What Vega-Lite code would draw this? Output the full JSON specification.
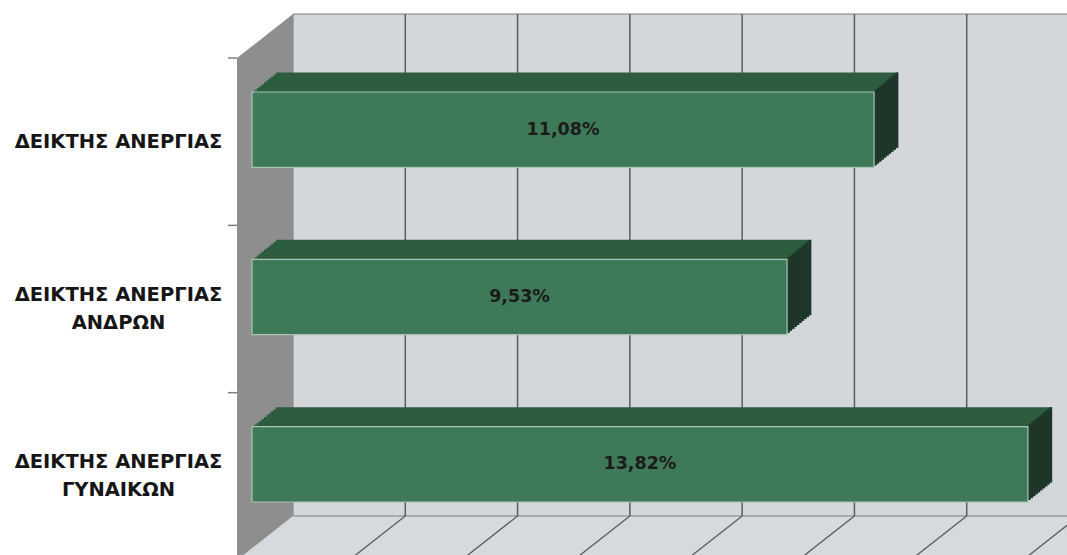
{
"$schema": "https://vega.github.io/schema/vega-lite/v6.json",
"width": 830, "height": 497,
"autosize": "none",
"padding": {"left": 237, "top": 58, "right": 0, "bottom": 0},
"background": "white",
"config": {"view": {"stroke": null}, "locale": {"number": {"decimal": ",", "thousands": ".", "grouping": [3], "currency": ["", " €"]}}},
"data": {"values": [
 {"label": "ΔΕΙΚΤΗΣ ΑΝΕΡΓΙΑΣ", "value": 0.1108},
 {"label": "ΔΕΙΚΤΗΣ ΑΝΕΡΓΙΑΣ ΑΝΔΡΩΝ", "value": 0.0953},
 {"label": "ΔΕΙΚΤΗΣ ΑΝΕΡΓΙΑΣ ΓΥΝΑΙΚΩΝ", "value": 0.1382}
]},
"resolve": {"scale": {"x": "independent", "y": "independent"}, "axis": {"y": "independent"}},
"layer": [
 {"data": {"values": [{}]},
  "layer": [
   {"mark": {"type": "rect", "fill": "#d6d9de", "x2Offset": 56, "yOffset": -44},
    "encoding": {"x": {"datum": 0, "type": "quantitative", "scale": {"domain": [0, 0.14], "range": [0, 786], "nice": false, "zero": false}, "axis": null}, "x2": {"datum": 0.14}, "y": {"datum": 1, "type": "quantitative", "scale": {"domain": [0, 1], "range": [0, 502], "nice": false, "zero": false}, "axis": null}, "y2": {"datum": 1}}},
   {"mark": {"type": "rect", "fill": "#d3d6db", "stroke": "#7d7d7d", "strokeWidth": 1, "xOffset": 56, "x2Offset": 56, "yOffset": -44, "y2Offset": -44},
    "encoding": {"x": {"datum": 0, "type": "quantitative"}, "x2": {"datum": 0.14}, "y": {"datum": 0, "type": "quantitative"}, "y2": {"datum": 1}}},
   {"mark": {"type": "rect", "fill": "#8e8e8e", "xOffset": 0, "x2Offset": 4.5, "yOffset": -3.14, "y2Offset": 0}, "encoding": {"x": {"datum": 0, "type": "quantitative"}, "x2": {"datum": 0}, "y": {"datum": 0, "type": "quantitative"}, "y2": {"datum": 1}}},
   {"mark": {"type": "rect", "fill": "#8e8e8e", "xOffset": 4, "x2Offset": 8.5, "yOffset": -6.29, "y2Offset": -3.14}, "encoding": {"x": {"datum": 0, "type": "quantitative"}, "x2": {"datum": 0}, "y": {"datum": 0, "type": "quantitative"}, "y2": {"datum": 1}}},
   {"mark": {"type": "rect", "fill": "#8e8e8e", "xOffset": 8, "x2Offset": 12.5, "yOffset": -9.43, "y2Offset": -6.29}, "encoding": {"x": {"datum": 0, "type": "quantitative"}, "x2": {"datum": 0}, "y": {"datum": 0, "type": "quantitative"}, "y2": {"datum": 1}}},
   {"mark": {"type": "rect", "fill": "#8e8e8e", "xOffset": 12, "x2Offset": 16.5, "yOffset": -12.57, "y2Offset": -9.43}, "encoding": {"x": {"datum": 0, "type": "quantitative"}, "x2": {"datum": 0}, "y": {"datum": 0, "type": "quantitative"}, "y2": {"datum": 1}}},
   {"mark": {"type": "rect", "fill": "#8e8e8e", "xOffset": 16, "x2Offset": 20.5, "yOffset": -15.71, "y2Offset": -12.57}, "encoding": {"x": {"datum": 0, "type": "quantitative"}, "x2": {"datum": 0}, "y": {"datum": 0, "type": "quantitative"}, "y2": {"datum": 1}}},
   {"mark": {"type": "rect", "fill": "#8e8e8e", "xOffset": 20, "x2Offset": 24.5, "yOffset": -18.86, "y2Offset": -15.71}, "encoding": {"x": {"datum": 0, "type": "quantitative"}, "x2": {"datum": 0}, "y": {"datum": 0, "type": "quantitative"}, "y2": {"datum": 1}}},
   {"mark": {"type": "rect", "fill": "#8e8e8e", "xOffset": 24, "x2Offset": 28.5, "yOffset": -22.0, "y2Offset": -18.86}, "encoding": {"x": {"datum": 0, "type": "quantitative"}, "x2": {"datum": 0}, "y": {"datum": 0, "type": "quantitative"}, "y2": {"datum": 1}}},
   {"mark": {"type": "rect", "fill": "#8e8e8e", "xOffset": 28, "x2Offset": 32.5, "yOffset": -25.14, "y2Offset": -22.0}, "encoding": {"x": {"datum": 0, "type": "quantitative"}, "x2": {"datum": 0}, "y": {"datum": 0, "type": "quantitative"}, "y2": {"datum": 1}}},
   {"mark": {"type": "rect", "fill": "#8e8e8e", "xOffset": 32, "x2Offset": 36.5, "yOffset": -28.29, "y2Offset": -25.14}, "encoding": {"x": {"datum": 0, "type": "quantitative"}, "x2": {"datum": 0}, "y": {"datum": 0, "type": "quantitative"}, "y2": {"datum": 1}}},
   {"mark": {"type": "rect", "fill": "#8e8e8e", "xOffset": 36, "x2Offset": 40.5, "yOffset": -31.43, "y2Offset": -28.29}, "encoding": {"x": {"datum": 0, "type": "quantitative"}, "x2": {"datum": 0}, "y": {"datum": 0, "type": "quantitative"}, "y2": {"datum": 1}}},
   {"mark": {"type": "rect", "fill": "#8e8e8e", "xOffset": 40, "x2Offset": 44.5, "yOffset": -34.57, "y2Offset": -31.43}, "encoding": {"x": {"datum": 0, "type": "quantitative"}, "x2": {"datum": 0}, "y": {"datum": 0, "type": "quantitative"}, "y2": {"datum": 1}}},
   {"mark": {"type": "rect", "fill": "#8e8e8e", "xOffset": 44, "x2Offset": 48.5, "yOffset": -37.71, "y2Offset": -34.57}, "encoding": {"x": {"datum": 0, "type": "quantitative"}, "x2": {"datum": 0}, "y": {"datum": 0, "type": "quantitative"}, "y2": {"datum": 1}}},
   {"mark": {"type": "rect", "fill": "#8e8e8e", "xOffset": 48, "x2Offset": 52.5, "yOffset": -40.86, "y2Offset": -37.71}, "encoding": {"x": {"datum": 0, "type": "quantitative"}, "x2": {"datum": 0}, "y": {"datum": 0, "type": "quantitative"}, "y2": {"datum": 1}}},
   {"mark": {"type": "rect", "fill": "#8e8e8e", "xOffset": 52, "x2Offset": 56, "yOffset": -44.0, "y2Offset": -40.86}, "encoding": {"x": {"datum": 0, "type": "quantitative"}, "x2": {"datum": 0}, "y": {"datum": 0, "type": "quantitative"}, "y2": {"datum": 1}}},
   {"mark": {"type": "rule", "color": "white", "strokeWidth": 8, "strokeCap": "butt", "xOffset": -2.47, "x2Offset": 53.53, "yOffset": -3.14, "y2Offset": -47.14},
    "encoding": {"x": {"datum": 0, "type": "quantitative"}, "x2": {"datum": 0}, "y": {"datum": 0, "type": "quantitative"}, "y2": {"datum": 0}}},
   {"mark": {"type": "rule", "color": "#d6d9de", "strokeWidth": 8, "strokeCap": "butt", "xOffset": 2.47, "x2Offset": 58.47, "yOffset": 3.14, "y2Offset": -40.86},
    "encoding": {"x": {"datum": 0, "type": "quantitative"}, "x2": {"datum": 0}, "y": {"datum": 1, "type": "quantitative"}, "y2": {"datum": 1}}},
   {"data": {"values": [{"g": 0.02}, {"g": 0.04}, {"g": 0.06}, {"g": 0.08}, {"g": 0.10}, {"g": 0.12}, {"g": 0.14}]},
    "mark": {"type": "rule", "color": "#5c5c5c", "strokeWidth": 1.5, "xOffset": 56, "yOffset": -44, "y2Offset": -44},
    "encoding": {"x": {"field": "g", "type": "quantitative"}, "y": {"datum": 0, "type": "quantitative"}, "y2": {"datum": 1}}},
   {"data": {"values": [{"g": 0.02}, {"g": 0.04}, {"g": 0.06}, {"g": 0.08}, {"g": 0.10}, {"g": 0.12}, {"g": 0.14}]},
    "mark": {"type": "rule", "color": "#5c5c5c", "strokeWidth": 1.3, "xOffset": 56, "x2Offset": 0, "yOffset": -44},
    "encoding": {"x": {"field": "g", "type": "quantitative"}, "x2": {"field": "g"}, "y": {"datum": 1, "type": "quantitative"}, "y2": {"datum": 1}}}
  ]},
 {"encoding": {
   "x": {"field": "value", "type": "quantitative", "scale": {"domain": [0, 0.14], "range": [0, 786], "nice": false, "zero": false}, "axis": null},
   "y": {"field": "label", "type": "nominal", "sort": null, "scale": {"range": [0, 502], "paddingInner": 0.55, "paddingOuter": 0.275},
     "axis": {"orient": "left", "title": null, "domain": false, "grid": false, "ticks": false,
       "labelExpr": "length(datum.label) > 16 ? [substring(datum.label, 0, 16), substring(datum.label, 17)] : datum.label",
       "labelOffset": {"condition": {"test": "length(datum.value) > 16", "value": -14}, "value": 0},
       "labelFont": "DejaVu Sans", "labelFontWeight": "bold", "labelFontSize": 19.5, "labelColor": "#161616", "labelAlign": "center", "labelBaseline": "middle", "labelPadding": 119, "labelLineHeight": 28, "labelLimit": 400}}},
  "layer": [
   {"mark": {"type": "rule", "color": "#808080", "strokeWidth": 1.5, "xOffset": -9, "x2Offset": 0, "yOffset": -83.65}, "encoding": {"x": {"datum": 0, "type": "quantitative"}, "x2": {"datum": 0}}},
   {"mark": {"type": "bar", "color": "#2d5c3f", "xOffset": 39, "x2Offset": 39, "yOffset": -31.5, "y2Offset": -31.5}},
   {"mark": {"type": "bar", "color": "#2d5c3f", "xOffset": 36.6, "x2Offset": 36.6, "yOffset": -29.55, "y2Offset": -29.55}},
   {"mark": {"type": "bar", "color": "#2d5c3f", "xOffset": 34.2, "x2Offset": 34.2, "yOffset": -27.6, "y2Offset": -27.6}},
   {"mark": {"type": "bar", "color": "#2d5c3f", "xOffset": 31.8, "x2Offset": 31.8, "yOffset": -25.65, "y2Offset": -25.65}},
   {"mark": {"type": "bar", "color": "#2d5c3f", "xOffset": 29.4, "x2Offset": 29.4, "yOffset": -23.7, "y2Offset": -23.7}},
   {"mark": {"type": "bar", "color": "#2d5c3f", "xOffset": 27, "x2Offset": 27, "yOffset": -21.75, "y2Offset": -21.75}},
   {"mark": {"type": "bar", "color": "#2d5c3f", "xOffset": 24.6, "x2Offset": 24.6, "yOffset": -19.8, "y2Offset": -19.8}},
   {"mark": {"type": "bar", "color": "#2d5c3f", "xOffset": 22.2, "x2Offset": 22.2, "yOffset": -17.85, "y2Offset": -17.85}},
   {"mark": {"type": "bar", "color": "#2d5c3f", "xOffset": 19.8, "x2Offset": 19.8, "yOffset": -15.9, "y2Offset": -15.9}},
   {"mark": {"type": "bar", "color": "#2d5c3f", "xOffset": 17.4, "x2Offset": 17.4, "yOffset": -13.95, "y2Offset": -13.95}},
   {"mark": {"type": "bar", "color": "#1d3629", "xOffset": 15, "x2Offset": 17.7, "yOffset": -13.95, "y2Offset": -13.95}, "encoding": {"x2": {"field": "value"}}},
   {"mark": {"type": "bar", "color": "#1d3629", "xOffset": 17.4, "x2Offset": 20.1, "yOffset": -15.9, "y2Offset": -15.9}, "encoding": {"x2": {"field": "value"}}},
   {"mark": {"type": "bar", "color": "#1d3629", "xOffset": 19.8, "x2Offset": 22.5, "yOffset": -17.85, "y2Offset": -17.85}, "encoding": {"x2": {"field": "value"}}},
   {"mark": {"type": "bar", "color": "#1d3629", "xOffset": 22.2, "x2Offset": 24.9, "yOffset": -19.8, "y2Offset": -19.8}, "encoding": {"x2": {"field": "value"}}},
   {"mark": {"type": "bar", "color": "#1d3629", "xOffset": 24.6, "x2Offset": 27.3, "yOffset": -21.75, "y2Offset": -21.75}, "encoding": {"x2": {"field": "value"}}},
   {"mark": {"type": "bar", "color": "#1d3629", "xOffset": 27, "x2Offset": 29.7, "yOffset": -23.7, "y2Offset": -23.7}, "encoding": {"x2": {"field": "value"}}},
   {"mark": {"type": "bar", "color": "#1d3629", "xOffset": 29.4, "x2Offset": 32.1, "yOffset": -25.65, "y2Offset": -25.65}, "encoding": {"x2": {"field": "value"}}},
   {"mark": {"type": "bar", "color": "#1d3629", "xOffset": 31.8, "x2Offset": 34.5, "yOffset": -27.6, "y2Offset": -27.6}, "encoding": {"x2": {"field": "value"}}},
   {"mark": {"type": "bar", "color": "#1d3629", "xOffset": 34.2, "x2Offset": 36.9, "yOffset": -29.55, "y2Offset": -29.55}, "encoding": {"x2": {"field": "value"}}},
   {"mark": {"type": "bar", "color": "#1d3629", "xOffset": 36.6, "x2Offset": 39.3, "yOffset": -31.5, "y2Offset": -31.5}, "encoding": {"x2": {"field": "value"}}},
   {"mark": {"type": "bar", "color": "#3e7a57", "stroke": "#aac3b4", "strokeWidth": 1.2, "xOffset": 15, "x2Offset": 15, "yOffset": -12, "y2Offset": -12}}
  ]},
 {"mark": {"type": "text", "font": "DejaVu Sans", "fontWeight": "bold", "fontSize": 17.5, "color": "#1b1b1b", "xOffset": 15, "yOffset": -12, "align": "center", "baseline": "middle"},
  "encoding": {
   "x": {"field": "value", "type": "quantitative", "scale": {"domain": [0, 0.14], "range": [0, 393], "nice": false, "zero": false}, "axis": null},
   "y": {"field": "label", "type": "nominal", "sort": null, "scale": {"range": [0, 502], "paddingInner": 0.55, "paddingOuter": 0.275}, "axis": null},
   "text": {"field": "value", "type": "quantitative", "format": ".2%"}}}
]
}
